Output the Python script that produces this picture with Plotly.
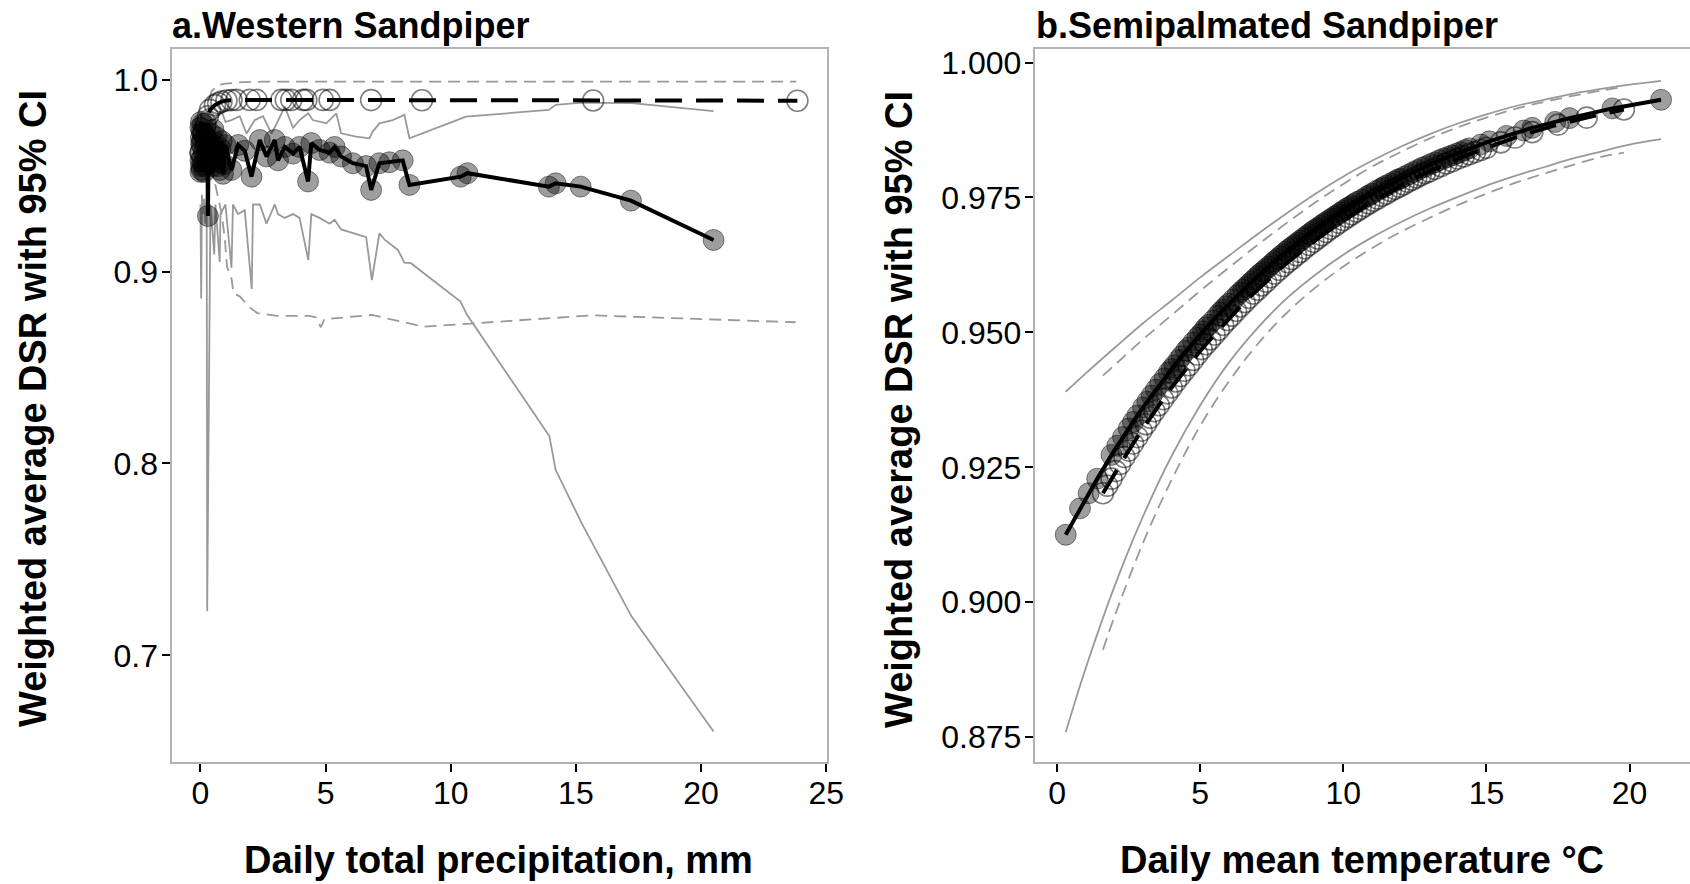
import plotly.graph_objects as go

# ---------------- Panel a: Western Sandpiper (precipitation) ----------------
wesa_fill_x = [0.00,0.00,0.00,0.01,0.02,0.02,0.03,0.04,0.05,0.05,0.06,0.08,0.10,0.10,0.12,0.14,0.15,0.16,0.18,0.20,
               0.20,0.22,0.25,0.28,0.30,0.33,0.36,0.40,0.42,0.45,0.48,0.50,0.52,0.55,0.58,0.60,0.65,0.70,0.72,0.78,
               0.80,0.85,0.90,0.95,1.00,
               1.24,1.51,1.77,2.04,2.37,2.64,2.97,3.10,3.37,3.70,3.96,4.30,4.43,4.76,5.16,5.36,5.62,6.09,6.62,6.82,
               7.15,7.55,8.08,8.35,10.40,10.67,13.92,14.19,15.19,17.20,20.50]
wesa_fill_y = [0.958,0.975,0.952,0.962,0.970,0.978,0.955,0.966,0.973,0.953,0.959,0.968,0.956,0.977,0.972,0.962,0.952,0.967,0.955,0.970,
               0.976,0.960,0.966,0.957,0.929,0.968,0.960,0.965,0.972,0.958,0.955,0.966,0.974,0.962,0.957,0.967,0.970,0.955,0.962,0.953,
               0.964,0.968,0.951,0.956,0.966,
               0.953,0.966,0.963,0.9495,0.9686,0.960,0.9686,0.958,0.965,0.9615,0.965,0.947,0.967,0.9634,0.962,0.965,0.960,0.9565,0.955,0.9426,
               0.9565,0.957,0.958,0.9452,0.9495,0.9513,0.9443,0.946,0.9443,0.937,0.9165]
wesa_hi_x = [0.00,0.05,0.30,0.60,0.84,1.00,1.24,1.57,1.84,2.17,2.50,2.84,3.04,3.37,3.70,3.96,4.30,4.49,5.03,5.43,
             5.62,6.22,6.75,6.88,7.15,7.68,8.15,8.35,10.61,13.92,14.19,15.25,17.24,20.50]
wesa_hi_y = [0.975,0.983,0.985,0.980,0.984,0.978,0.979,0.981,0.972,0.979,0.981,0.972,0.977,0.986,0.975,0.979,0.9825,0.979,0.9773,0.9825,
             0.9721,0.9704,0.9695,0.973,0.9773,0.979,0.9817,0.9695,0.9808,0.9843,0.9869,0.9881,0.9878,0.9837]
wesa_lo_x = [0.00,0.03,0.06,0.10,0.15,0.20,0.25,0.27,0.40,0.55,0.60,0.77,0.80,1.00,1.24,1.30,1.50,1.77,2.05,2.10,
             2.37,2.64,2.97,3.10,3.37,3.70,3.96,4.31,4.43,4.76,5.16,5.36,5.62,6.09,6.62,6.85,7.15,7.37,7.54,7.89,
             8.15,8.41,10.39,10.65,13.94,14.19,15.23,17.22,20.50]
wesa_lo_y = [0.935,0.886,0.940,0.930,0.938,0.925,0.940,0.723,0.935,0.909,0.935,0.905,0.930,0.935,0.902,0.935,0.930,0.932,0.891,0.935,
             0.935,0.925,0.935,0.930,0.928,0.930,0.928,0.906,0.930,0.928,0.925,0.927,0.922,0.920,0.918,0.8956,0.920,0.9165,0.9148,0.9113,
             0.9047,0.9044,0.8844,0.8775,0.8143,0.7967,0.7689,0.7203,0.6603]

wesa_open_x = [0.00,0.05,0.10,0.20,0.30,0.38,0.58,0.71,0.84,1.04,1.24,1.44,1.97,2.24,3.23,3.41,3.63,4.10,4.23,4.89,
               5.16,6.82,8.85,15.69,23.85]
wesa_open_y = [0.962,0.967,0.972,0.977,0.981,0.9843,0.9868,0.9878,0.9886,0.9892,0.9894,0.9895,0.9895,0.9895,0.9895,0.9895,0.9895,0.9895,0.9895,0.9895,
               0.9895,0.9894,0.9893,0.9892,0.9891]
wesa_open_hi_x = [0.35,0.45,0.60,0.80,1.00,1.30,1.70,2.50,5.00,10.00,15.70,23.80]
wesa_open_hi_y = [0.990,0.994,0.996,0.9975,0.998,0.9985,0.9988,0.999,0.999,0.999,0.999,0.999]
wesa_open_lo_x = [0.35,0.60,0.85,0.98,1.06,1.24,1.32,1.58,1.93,2.27,3.05,4.35,4.61,4.81,4.95,6.85,8.92,15.66,23.78]
wesa_open_lo_y = [0.955,0.945,0.930,0.9165,0.9026,0.8966,0.8887,0.887,0.8818,0.8784,0.8769,0.8769,0.8762,0.871,0.8752,0.8774,0.8713,0.8772,0.8736]

# ---------------- Panel b: Semipalmated Sandpiper (temperature) ----------------
sesa_fill_x = [0.3,0.8,1.1,1.4,1.9,2.1,2.5,2.8,3.0,3.3,3.6,3.9,4.1,4.35,4.6,4.9,5.1,5.3,5.6,5.8,
               6.0,6.3,6.5,6.7,6.9,7.1,7.3,7.5,7.7,7.9,8.1,8.3,8.5,8.7,8.9,9.1,9.3,9.5,9.7,9.9,
               10.1,10.3,10.5,10.8,11.0,11.3,11.5,11.8,12.0,12.3,12.6,12.9,13.2,13.5,13.8,14.1,14.4,14.8,15.1,15.7,
               16.3,16.6,17.4,17.9,19.4,21.1]
sesa_fill_y = [0.9125,0.9174,0.9202,0.9229,0.9273,0.9290,0.9322,0.9346,0.9361,0.9383,0.9405,0.9426,0.9439,0.9456,0.9472,0.9490,0.9502,0.9514,0.9531,0.9542,
               0.9553,0.9569,0.9579,0.9589,0.9599,0.9609,0.9618,0.9627,0.9636,0.9645,0.9654,0.9662,0.9670,0.9678,0.9686,0.9693,0.9701,0.9708,0.9715,0.9722,
               0.9729,0.9735,0.9742,0.9751,0.9757,0.9766,0.9772,0.9780,0.9785,0.9793,0.9801,0.9808,0.9815,0.9822,0.9828,0.9834,0.9841,0.9848,0.9854,0.9864,
               0.9874,0.9879,0.9890,0.9897,0.9915,0.9931]
sesa_fill_extra_x = [2.3,2.65,3.15,3.45,3.75,4.0,4.25,4.5,4.75,5.0,5.2,5.45,5.7,5.9,6.15,6.4,6.6,6.8,7.0,7.2,
                     7.4,7.6,7.8,8.0,8.2,8.4,8.6,8.8,9.0,9.2,9.4,9.6,9.8,10.0,10.2,10.4,10.65,10.9,11.15,11.4,
                     11.65,11.9,12.15,12.45,12.75,13.05,13.35,13.65,13.95,14.25]
sesa_fill_extra_y = [0.9306,0.9334,0.9372,0.9394,0.9415,0.9432,0.9449,0.9466,0.9481,0.9496,0.9509,0.9522,0.9537,0.9548,0.9561,0.9574,0.9584,0.9594,0.9604,0.9613,
                     0.9622,0.9632,0.9641,0.9650,0.9658,0.9666,0.9674,0.9682,0.9690,0.9697,0.9704,0.9711,0.9718,0.9725,0.9732,0.9739,0.9746,0.9754,0.9762,0.9769,
                     0.9776,0.9783,0.9789,0.9797,0.9805,0.9812,0.9819,0.9825,0.9831,0.9838]
sesa_open_x = [1.6,1.9,2.2,2.5,2.8,3.1,3.4,3.7,4.0,4.3,4.6,4.9,5.2,5.5,5.8,6.1,6.4,6.7,7.0,7.3,
               7.6,7.9,8.2,8.5,8.8,9.1,9.4,9.7,10.0,10.3,10.6,10.9,11.2,11.5,11.8,12.1,12.4,12.7,13.0,13.4,
               13.8,14.2,14.6,15.0,15.5,16.0,16.6,17.5,18.5,19.8]
sesa_open_y = [0.9202,0.9229,0.9256,0.9281,0.9306,0.9330,0.9354,0.9376,0.9398,0.9419,0.9439,0.9459,0.9478,0.9496,0.9514,0.9531,0.9548,0.9564,0.9579,0.9594,
               0.9609,0.9623,0.9636,0.9649,0.9662,0.9674,0.9686,0.9697,0.9708,0.9719,0.9729,0.9739,0.9748,0.9757,0.9766,0.9774,0.9783,0.9791,0.9798,0.9808,
               0.9817,0.9826,0.9834,0.9842,0.9852,0.9861,0.9871,0.9885,0.9898,0.9913]
sesa_open_extra_x = [1.75,2.05,2.35,2.65,2.95,3.25,3.55,3.85,4.15,4.45,4.75,5.05,5.35,5.65,5.95,6.25,6.55,6.85,7.15,7.45,
                     7.75,8.05,8.35,8.65,8.95,9.25,9.55,9.85,10.15,10.45,10.75,11.05,11.35,11.65,11.95,12.25,12.55,12.85,13.2,13.6,
                     14.0,14.4,14.8]
sesa_open_extra_y = [0.9216,0.9243,0.9269,0.9294,0.9318,0.9342,0.9365,0.9387,0.9409,0.9429,0.9449,0.9469,0.9487,0.9505,0.9523,0.9540,0.9556,0.9572,0.9587,0.9602,
                     0.9616,0.9630,0.9643,0.9656,0.9668,0.9680,0.9692,0.9703,0.9714,0.9724,0.9734,0.9744,0.9753,0.9762,0.9770,0.9779,0.9787,0.9795,0.9803,0.9813,
                     0.9822,0.9830,0.9838]
sesa_ci_x = [0.3,1,2,3,4,5,6,7,8,9,10,11,12,13,14,15,16,17,18,19,20,21.1]
sesa_hi = [0.9390,0.9424,0.9471,0.9517,0.9559,0.9602,0.9642,0.9682,0.9720,0.9756,0.9789,0.9818,0.9844,0.9867,0.9887,0.9904,0.9919,0.9931,0.9942,0.9951,0.9959,0.9966]
sesa_lo = [0.8759,0.8878,0.9029,0.9159,0.9271,0.9365,0.9444,0.9508,0.9562,0.9606,0.9644,0.9676,0.9704,0.9729,0.9751,0.9772,0.9790,0.9806,0.9822,0.9835,0.9848,0.9858]
sesa_ci2_x = [1.6,2,3,4,5,6,7,8,9,10,11,12,13,14,15,16,17,18,19,19.8]
sesa_hi2 = [0.9420,0.9439,0.9487,0.9532,0.9577,0.9620,0.9662,0.9702,0.9740,0.9775,0.9807,0.9834,0.9859,0.9880,0.9898,0.9914,0.9927,0.9938,0.9948,0.9955]
sesa_lo2 = [0.8912,0.8973,0.9110,0.9227,0.9327,0.9409,0.9478,0.9535,0.9582,0.9622,0.9656,0.9686,0.9712,0.9736,0.9757,0.9777,0.9794,0.9810,0.9825,0.9833]

left_xticks = [0, 5, 10, 15, 20, 25]
left_yticks = [0.7, 0.8, 0.9, 1.0]
left_yticktext = ["0.7", "0.8", "0.9", "1.0"]
right_xticks = [0, 5, 10, 15, 20]
right_yticks = [0.875, 0.900, 0.925, 0.950, 0.975, 1.000]
right_yticktext = ["0.875", "0.900", "0.925", "0.950", "0.975", "1.000"]

GREY = "#999999"
FILL = "rgba(0,0,0,0.38)"
EDGE = "rgba(0,0,0,0.45)"
OPEN_EDGE = "rgba(0,0,0,0.5)"
FONT = "Liberation Sans, Arial, sans-serif"

fig = go.Figure()

def add_panel(xa, ya, ci_sets, open_sets, fill_sets, line_open, line_fill, msize):
    for (cx, cy, dash) in ci_sets:
        fig.add_trace(go.Scatter(x=cx, y=cy, mode="lines", xaxis=xa, yaxis=ya,
                                 line=dict(color=GREY, width=1.8, dash=dash,
                                           shape="spline" if xa == "x2" else "linear"),
                                 hoverinfo="skip"))
    for (ox, oy) in open_sets:
        fig.add_trace(go.Scatter(x=ox, y=oy, mode="markers", xaxis=xa, yaxis=ya,
                                 marker=dict(size=msize, color="rgba(0,0,0,0)",
                                             line=dict(color=OPEN_EDGE, width=1.6))))
    for (fx, fy) in fill_sets:
        fig.add_trace(go.Scatter(x=fx, y=fy, mode="markers", xaxis=xa, yaxis=ya,
                                 marker=dict(size=msize, color=FILL, line=dict(color=EDGE, width=1))))
    fig.add_trace(go.Scatter(x=line_open[0], y=line_open[1], mode="lines", xaxis=xa, yaxis=ya,
                             line=dict(color="black", width=4, dash="27px,14px")))
    fig.add_trace(go.Scatter(x=line_fill[0], y=line_fill[1], mode="lines", xaxis=xa, yaxis=ya,
                             line=dict(color="black", width=4)))

add_panel("x", "y",
          [(wesa_hi_x, wesa_hi_y, "solid"), (wesa_lo_x, wesa_lo_y, "solid"),
           (wesa_open_hi_x, wesa_open_hi_y, "12px,7px"), (wesa_open_lo_x, wesa_open_lo_y, "12px,7px")],
          [(wesa_open_x, wesa_open_y)], [(wesa_fill_x, wesa_fill_y)],
          (wesa_open_x, wesa_open_y), (wesa_fill_x, wesa_fill_y), 21)
add_panel("x2", "y2",
          [(sesa_ci_x, sesa_hi, "solid"), (sesa_ci_x, sesa_lo, "solid"),
           (sesa_ci2_x, sesa_hi2, "12px,7px"), (sesa_ci2_x, sesa_lo2, "12px,7px")],
          [(sesa_open_x, sesa_open_y), (sesa_open_extra_x, sesa_open_extra_y)],
          [(sesa_fill_x, sesa_fill_y), (sesa_fill_extra_x, sesa_fill_extra_y)],
          (sesa_open_x, sesa_open_y), (sesa_fill_x, sesa_fill_y), 21)

W, H = 1690, 884
def px(v): return v / W
def py(v): return 1 - v / H

axis_common = dict(showgrid=False, zeroline=False, showline=True, linecolor="#b3b3b3", linewidth=2,
                   ticks="outside", ticklen=8, tickwidth=2, tickcolor="black", automargin=False,
                   tickfont=dict(family=FONT, size=32, color="black"))

fig.update_layout(
    width=W, height=H, margin=dict(l=0, r=0, t=0, b=0, autoexpand=False),
    paper_bgcolor="white", plot_bgcolor="white", showlegend=False,
    xaxis=dict(domain=[px(172.4), px(826.7)], range=[-1.12, 25.02], tickvals=left_xticks,
               mirror=True, anchor="y", ticklabelstandoff=-6, **axis_common),
    yaxis=dict(domain=[py(762), py(48.5)], range=[0.6444, 1.0163], tickvals=left_yticks,
               ticktext=left_yticktext, mirror=True, anchor="x", ticklabelstandoff=-2, **axis_common),
    xaxis2=dict(domain=[px(1034.7), 1.0], range=[-0.784, 22.11], tickvals=right_xticks,
                mirror=True, anchor="y2", ticklabelstandoff=-6, **axis_common),
    yaxis2=dict(domain=[py(762), py(48.5)], range=[0.8704, 1.0026], tickvals=right_yticks,
                ticktext=right_yticktext, mirror=False, anchor="x2", ticklabelstandoff=-3, **axis_common),
)

ann = []
ann.append(dict(text="<b>a.Western Sandpiper</b>", x=px(170), y=py(25), xref="paper", yref="paper",
                xanchor="left", yanchor="middle", showarrow=False,
                font=dict(family=FONT, size=36, color="black")))
ann.append(dict(text="<b>b.Semipalmated Sandpiper</b>", x=px(1034), y=py(25), xref="paper", yref="paper",
                xanchor="left", yanchor="middle", showarrow=False,
                font=dict(family=FONT, size=36, color="black")))
ann.append(dict(text="<b>Daily total precipitation, mm</b>", x=px(499), y=py(860), xref="paper", yref="paper",
                xanchor="center", yanchor="middle", showarrow=False,
                font=dict(family=FONT, size=38, color="black")))
ann.append(dict(text="<b>Daily mean temperature °C</b>", x=px(1362), y=py(860), xref="paper", yref="paper",
                xanchor="center", yanchor="middle", showarrow=False,
                font=dict(family=FONT, size=38, color="black")))
for xc in (33, 899):
    ann.append(dict(text="<b>Weighted average DSR with 95% CI</b>", x=px(xc), y=py(409), xref="paper", yref="paper",
                    xanchor="center", yanchor="middle", showarrow=False, textangle=-90,
                    font=dict(family=FONT, size=38, color="black")))
fig.update_layout(annotations=ann)

fig.write_html("out.html")
